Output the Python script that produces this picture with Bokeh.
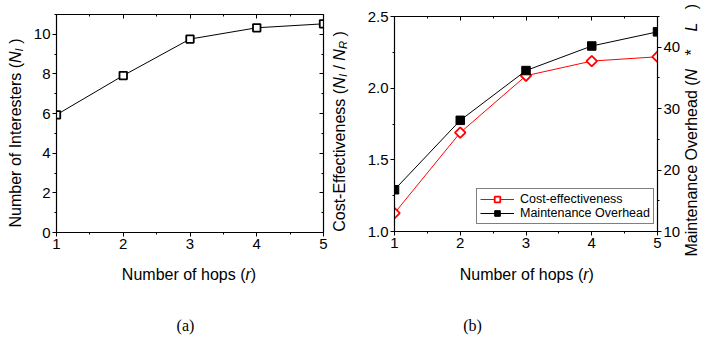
import numpy as np
from bokeh.plotting import figure
from bokeh.models import (Range1d, LinearAxis, SingleIntervalTicker, Label, Legend,
                          LegendItem, PrintfTickFormatter, CustomJSTickFormatter, Plot)
from bokeh.layouts import row, column
from bokeh.embed import file_html
from bokeh.resources import INLINE

# ---------------- data ----------------
hops = [1, 2, 3, 4, 5]
interesters = [5.94, 7.92, 9.76, 10.33, 10.53]
cost_effectiveness = [1.128, 1.69, 2.087, 2.189, 2.219]
maintenance_overhead = [16.8, 28.1, 36.2, 40.2, 42.5]

SANS = "Liberation Sans"
SERIF = "Liberation Serif"
TICK_FS = "15px"
LAB_FS = 16
HAS_FA = "frame_align" in Plot.properties()

# Arial / Liberation Sans advance widths (per 1000 em)
AW = {' ': 278, '(': 333, ')': 333, '/': 278, '*': 389, '-': 333,
      'A': 667, 'C': 722, 'E': 667, 'I': 278, 'L': 556, 'M': 833, 'N': 722,
      'O': 778, 'R': 722, 'a': 556, 'b': 556, 'c': 500, 'd': 556, 'e': 556,
      'f': 278, 'h': 556, 'i': 222, 'm': 833, 'n': 556, 'o': 556, 'p': 556,
      'r': 333, 's': 500, 't': 278, 'u': 556, 'v': 500}


def tw(s, size):
    return sum(AW.get(c, 556) for c in s) * size / 1000.0


def label_run(p, segs, size, center, base, vertical):
    sub_size = size * 0.7
    widths = [tw(t, sub_size if sub else size) for t, it, sub in segs]
    pos = center - sum(widths) / 2.0
    for (t, it, sub), w in zip(segs, widths):
        fs = sub_size if sub else size
        drop = size * 0.22 if sub else 0
        stripped = t.lstrip(" ")
        lead = tw(t[:len(t) - len(stripped)], fs)
        body = stripped.rstrip(" ")
        if body:
            kw = dict(x_units="screen", y_units="screen", text=body,
                      text_font=SANS, text_font_size="%.1fpx" % fs,
                      text_font_style="italic" if it else "normal",
                      text_color="black", text_align="left",
                      text_baseline="alphabetic")
            if vertical:
                lab = Label(x=base + drop, y=pos + lead, angle=np.pi / 2, **kw)
            else:
                lab = Label(x=pos + lead, y=base - drop, **kw)
            p.add_layout(lab)
        pos += w


def no_align(f):
    if HAS_FA:
        f.frame_align = False
    return f


def blank(width, height):
    f = figure(width=width, height=height, x_range=Range1d(0, 1), y_range=Range1d(0, 1),
               x_axis_location=None, y_axis_location=None, min_border_left=0,
               min_border_right=0, min_border_top=0, min_border_bottom=0,
               output_backend="svg", toolbar_location=None)
    f.xgrid.visible = False
    f.ygrid.visible = False
    f.outline_line_color = None
    return no_align(f)


def style_axis(ax, ticker, show_labels=True, inward=False):
    ax.ticker = ticker
    ax.axis_line_color = "black"
    ax.axis_line_width = 1.2
    ax.major_tick_line_color = "black"
    ax.minor_tick_line_color = "black"
    ax.major_tick_line_width = 1
    ax.minor_tick_line_width = 1
    if inward:
        ax.major_tick_in, ax.major_tick_out = 4, 0
        ax.minor_tick_in, ax.minor_tick_out = 2, 0
    else:
        ax.major_tick_in, ax.major_tick_out = 0, 4
        ax.minor_tick_in, ax.minor_tick_out = 0, 2
    if show_labels:
        ax.major_label_text_font = SANS
        ax.major_label_text_font_size = TICK_FS
        ax.major_label_text_color = "black"
        ax.major_label_standoff = 2
    else:
        ax.formatter = CustomJSTickFormatter(code="return ''")
        ax.major_label_text_font_size = "1px"
        ax.major_label_standoff = 0
    ax.axis_label = None


H1 = 258
H2 = 81

# ---------------- panel (a) ----------------
pa = figure(width=300, height=H1, x_range=Range1d(1, 5), y_range=Range1d(0, 11),
            min_border_left=24, min_border_right=7, min_border_top=14,
            min_border_bottom=26, output_backend="svg", toolbar_location=None)
no_align(pa)
pa.xgrid.visible = False
pa.ygrid.visible = False
pa.outline_line_color = None
style_axis(pa.xaxis[0], SingleIntervalTicker(interval=1, num_minor_ticks=2))
style_axis(pa.yaxis[0], SingleIntervalTicker(interval=2, num_minor_ticks=2))
ta = LinearAxis()
style_axis(ta, SingleIntervalTicker(interval=1, num_minor_ticks=2), False, True)
pa.add_layout(ta, "above")
ra = LinearAxis()
style_axis(ra, SingleIntervalTicker(interval=2, num_minor_ticks=2), False, True)
pa.add_layout(ra, "right")

pa.line(hops, interesters, line_color="black", line_width=1)
pa.scatter(hops, interesters, marker="square", size=7.5, fill_color="white",
           line_color="black", line_width=1.8)

# ---------------- panel (b) ----------------
pb = figure(width=331, height=H1, x_range=Range1d(1, 5), y_range=Range1d(1.0, 2.5),
            min_border_left=42, min_border_right=25, min_border_top=16,
            min_border_bottom=27, output_backend="svg", toolbar_location=None)
no_align(pb)
pb.extra_y_ranges = {"mo": Range1d(10, 45)}
pb.xgrid.visible = False
pb.ygrid.visible = False
pb.outline_line_color = None
style_axis(pb.xaxis[0], SingleIntervalTicker(interval=1, num_minor_ticks=2))
style_axis(pb.yaxis[0], SingleIntervalTicker(interval=0.5, num_minor_ticks=2))
pb.yaxis[0].formatter = PrintfTickFormatter(format="%.1f")
tb = LinearAxis()
style_axis(tb, SingleIntervalTicker(interval=1, num_minor_ticks=2), False, True)
pb.add_layout(tb, "above")
rb = LinearAxis(y_range_name="mo")
style_axis(rb, SingleIntervalTicker(interval=10, num_minor_ticks=2))
pb.add_layout(rb, "right")

l1 = pb.line(hops, cost_effectiveness, line_color="red", line_width=1)
s1 = pb.scatter(hops, cost_effectiveness, marker="square", angle=np.pi / 4, size=7.5,
                fill_color="white", line_color="red", line_width=1.8)
l2 = pb.line(hops, maintenance_overhead, y_range_name="mo", line_color="black", line_width=1)
s2 = pb.scatter(hops, maintenance_overhead, y_range_name="mo", marker="square", size=8.5,
                fill_color="black", line_color="black", line_width=1)

leg = Legend(items=[LegendItem(label="Cost-effectiveness", renderers=[l1, s1]),
                    LegendItem(label="Maintenance Overhead", renderers=[l2, s2])],
             location=(82, 7), padding=3, spacing=0, margin=0,
             glyph_width=34, glyph_height=14, label_height=14, label_standoff=6,
             label_text_font=SANS, label_text_font_size="12.5px",
             label_text_color="black", border_line_color="black",
             border_line_width=1, background_fill_color="white",
             background_fill_alpha=1)
pb.add_layout(leg, "center")

# ---------------- label strips ----------------
ylab_a = blank(30, H1)
label_run(ylab_a, [("Number of Interesters (", False, False), ("N", True, False),
                   ("I", True, True), (" )", False, False)],
          LAB_FS, 125.5, 14.5, True)

ylab_b = blank(22, H1)
label_run(ylab_b, [("Cost-Effectiveness (", False, False), ("N", True, False), ("I", True, True),
                   (" / ", False, False), ("N", True, False), ("R", True, True),
                   (" )", False, False)],
          LAB_FS, 127, 9, True)

ylab_c = blank(18, H1)
label_run(ylab_c, [("Maintenance Overhead (", False, False), ("N", True, False),
                   ("   *", False, False), ("    L", True, False), ("   )", False, False)],
          LAB_FS, 128.25, 8, True)

bottom = blank(701, H2)
label_run(bottom, [("Number of hops (", False, False), ("r", True, False), (")", False, False)],
          LAB_FS, 188.5, 65.3, False)
label_run(bottom, [("Number of hops (", False, False), ("r", True, False), (")", False, False)],
          LAB_FS, 526.3, 65.3, False)
for txt, cx in (("(a)", 185), ("(b)", 472)):
    bottom.add_layout(Label(x=cx, y=14, x_units="screen", y_units="screen", text=txt,
                            text_font=SERIF, text_font_size="16px", text_align="center",
                            text_baseline="middle", text_color="black"))

layout = column(row(ylab_a, pa, ylab_b, pb, ylab_c), bottom)
open("out.html", "w").write(file_html(layout, INLINE))
